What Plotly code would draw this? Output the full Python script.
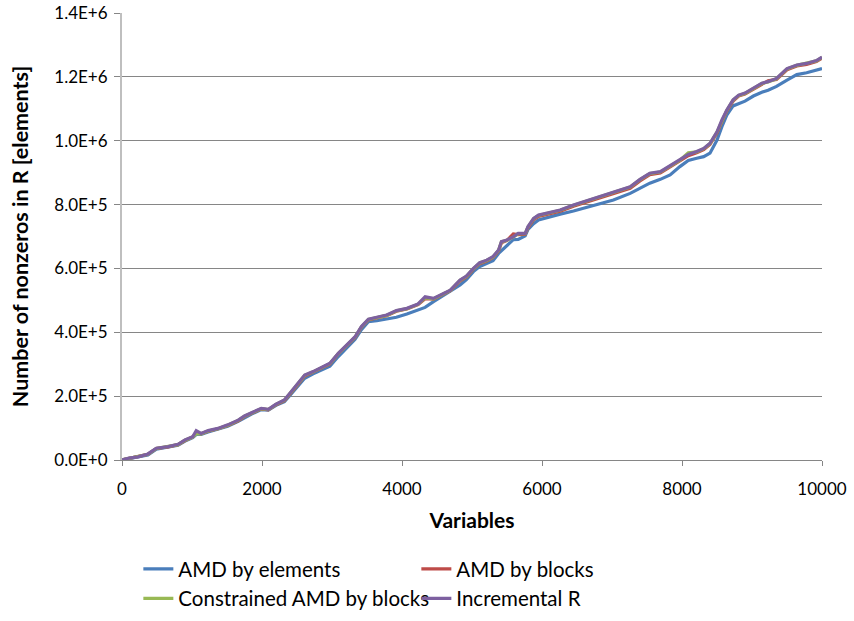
import plotly.graph_objects as go

variables = [0, 100, 230, 370, 490, 660, 800, 900, 1010, 1060, 1130, 1230, 1370, 1510, 1660, 1750, 1850,
             1990, 2090, 2200, 2320, 2420, 2510, 2610, 2730, 2850, 2970, 3090, 3210, 3330, 3420, 3520,
             3640, 3780, 3920, 4070, 4230, 4330, 4450, 4590, 4690, 4830, 4920, 5020, 5110, 5210, 5300,
             5380, 5420, 5500, 5590, 5660, 5760, 5800, 5880, 5950, 6110, 6260, 6450, 6640, 6830, 7020,
             7260, 7400, 7540, 7690, 7830, 7970, 8090, 8210, 8310, 8400, 8500, 8570, 8640, 8730, 8810,
             8900, 9020, 9140, 9230, 9350, 9500, 9640, 9780, 9920, 10000]

# values in thousands of elements
amd_elements = [0, 4, 8, 16, 34, 40, 46, 59, 70, 80, 80, 88, 96, 106, 121, 133, 144,
                158, 156, 171, 183, 208, 230, 256, 270, 283, 294, 324, 350, 378, 408, 433,
                436, 441, 447, 457, 470, 478, 496, 515, 527, 548, 565, 590, 606, 616, 624,
                647, 655, 673, 690, 691, 702, 722, 740, 752, 762, 770, 780, 791, 801, 814,
                835, 851, 867, 879, 893, 919, 938, 945, 950, 961, 1002, 1044, 1080, 1109, 1117,
                1124, 1140, 1152, 1158, 1170, 1190, 1207, 1213, 1220, 1226]

amd_blocks = [0, 5, 9, 18, 36, 41, 48, 61, 72, 86, 82, 90, 98, 108, 123, 136, 146,
              160, 157, 173, 186, 211, 236, 263, 275, 288, 301, 333, 359, 384, 416, 439,
              445, 452, 466, 473, 487, 505, 504, 520, 530, 561, 573, 598, 615, 623, 634,
              655, 680, 688, 708, 706, 707, 727, 753, 763, 771, 779, 795, 808, 820, 833,
              851, 874, 894, 899, 917, 936, 953, 962, 972, 988, 1024, 1060, 1093, 1124, 1140,
              1146, 1161, 1177, 1188, 1192, 1222, 1234, 1239, 1248, 1259]

constrained_amd = [0, 5, 10, 18, 36, 42, 48, 62, 72, 82, 82, 91, 98, 109, 124, 137, 147,
                   161, 158, 174, 187, 213, 237, 265, 276, 289, 302, 333, 359, 385, 417, 440,
                   446, 453, 467, 474, 488, 508, 505, 521, 531, 563, 575, 599, 617, 625, 636,
                   657, 683, 688, 698, 709, 709, 730, 756, 766, 774, 782, 798, 811, 824, 837,
                   855, 878, 897, 902, 920, 939, 962, 965, 975, 991, 1027, 1064, 1095, 1127, 1142,
                   1148, 1163, 1179, 1184, 1194, 1225, 1236, 1243, 1250, 1261]

incremental_r = [0, 6, 10, 19, 37, 42, 49, 63, 73, 92, 83, 92, 99, 110, 125, 138, 148,
                 162, 159, 175, 188, 214, 238, 266, 277, 290, 303, 334, 360, 386, 418, 441,
                 447, 454, 468, 475, 489, 511, 506, 522, 532, 564, 576, 600, 618, 626, 637,
                 658, 684, 689, 699, 710, 710, 731, 757, 767, 775, 783, 799, 812, 825, 838,
                 856, 879, 898, 903, 921, 940, 957, 966, 976, 992, 1028, 1065, 1096, 1128, 1143,
                 1149, 1164, 1180, 1185, 1195, 1226, 1237, 1242, 1251, 1262]

series_names = ["AMD by elements", "AMD by blocks", "Constrained AMD by blocks", "Incremental R"]
series_values = [amd_elements, amd_blocks, constrained_amd, incremental_r]
series_colors = ["#4A7EBB", "#BE4B48", "#98B954", "#7D60A0"]

y_tick_values = [0, 200000, 400000, 600000, 800000, 1000000, 1200000, 1400000]
y_tick_labels = ["0.0E+0", "2.0E+5", "4.0E+5", "6.0E+5", "8.0E+5", "1.0E+6", "1.2E+6", "1.4E+6"]
x_tick_values = [0, 2000, 4000, 6000, 8000, 10000]
x_tick_labels = ["0", "2000", "4000", "6000", "8000", "10000"]

fig = go.Figure()
for name, vals, col in zip(series_names, series_values, series_colors):
    fig.add_trace(go.Scatter(
        x=variables, y=[v * 1000 for v in vals], mode="lines", name=name,
        line=dict(color=col, width=3.2)))

font_family = "Lato, 'Open Sans', sans-serif"
fig.update_layout(
    width=854, height=621,
    margin=dict(l=122, r=32, t=13, b=161),
    paper_bgcolor="white", plot_bgcolor="white",
    font=dict(family=font_family, size=17, color="#000000"),
    showlegend=True,
    legend=dict(orientation="h", x=0.162, xref="container", xanchor="left",
                y=0.116, yref="container", yanchor="top",
                entrywidth=233, entrywidthmode="pixels", tracegroupgap=0,
                font=dict(size=20.5), itemwidth=30, bgcolor="rgba(0,0,0,0)"),
    xaxis=dict(range=[0, 10000], tickvals=x_tick_values, ticktext=x_tick_labels,
               ticks="outside", ticklen=5, ticklabelstandoff=9, ticklabeloverflow="allow",
               tickcolor="#868686", showline=True, linecolor="#868686", linewidth=1,
               showgrid=False, zeroline=False, automargin=False,
               title=dict(text="<b>Variables</b>", font=dict(size=21), standoff=14),
               tickfont=dict(size=17)),
    yaxis=dict(range=[0, 1400000], tickvals=y_tick_values, ticktext=y_tick_labels,
               ticks="outside", ticklen=6, tickcolor="#868686", ticklabelstandoff=3,
               ticklabeloverflow="allow",
               showline=True, linecolor="#BFBFBF", linewidth=2,
               showgrid=True, gridcolor="#868686", gridwidth=1, zeroline=False, automargin=False,
               title=dict(text="<b>Number of nonzeros in R [elements]</b>", font=dict(size=21.5), standoff=20),
               tickfont=dict(size=17)),
)

fig.write_html("out.html", config={"displayModeBar": False},
               post_script="document.body.style.margin='0';")
